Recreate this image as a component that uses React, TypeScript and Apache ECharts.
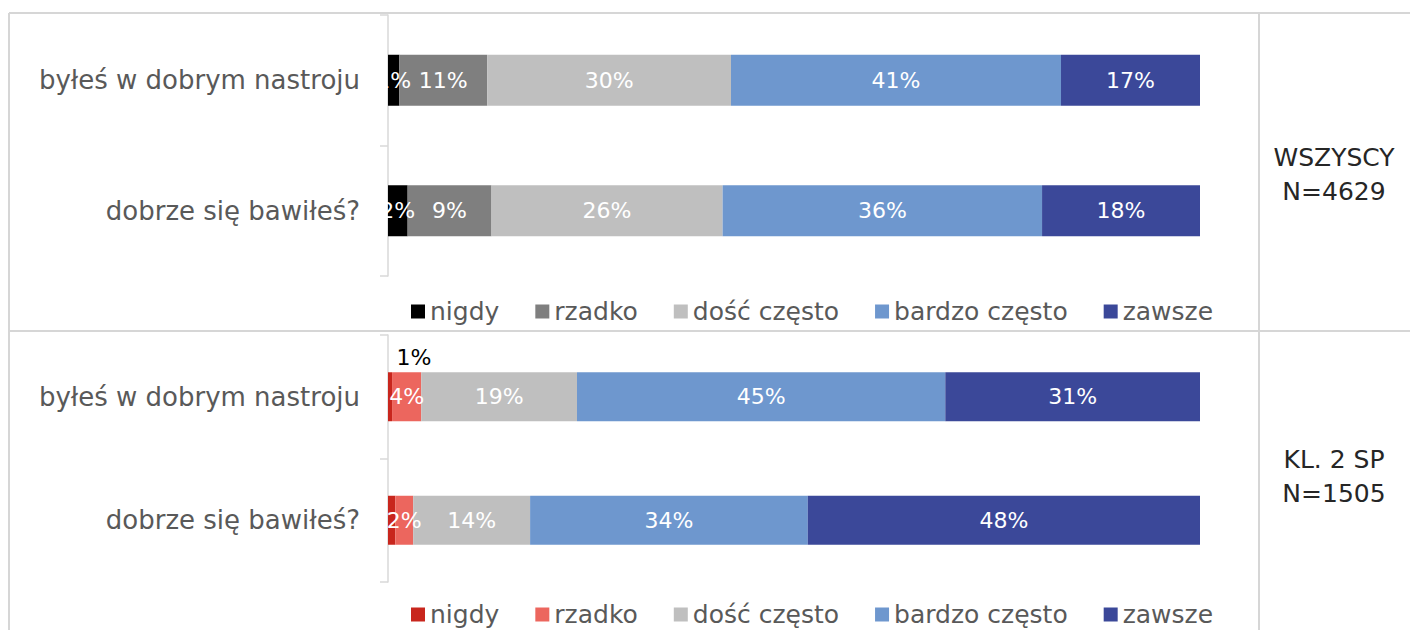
import React, { useEffect, useRef } from "react";
import * as echarts from "echarts";

const categories = ["byłeś w dobrym nastroju", "dobrze się bawiłeś?"];
const responses = ["nigdy", "rzadko", "dość często", "bardzo często", "zawsze"];

// WSZYSCY N=4629 (percent, per category)
const allNigdy = [1.4, 2.2];
const allRzadko = [10.8, 9.4];
const allDosc = [30.0, 25.9];
const allBardzo = [40.6, 35.8];
const allZawsze = [17.1, 17.7];

// KL. 2 SP N=1505
const kl2Nigdy = [0.5, 0.9];
const kl2Rzadko = [3.6, 2.2];
const kl2Dosc = [19.2, 14.4];
const kl2Bardzo = [45.4, 34.2];
const kl2Zawsze = [31.4, 48.3];

const panelTitles = [
  ["WSZYSCY", "N=4629"],
  ["KL. 2 SP", "N=1505"],
];

const colorsAll = ["#000000", "#7F7F7F", "#BFBFBF", "#6E97CE", "#3B4899"];
const colorsKl2 = ["#C8261D", "#EC665E", "#BFBFBF", "#6E97CE", "#3B4899"];

const FONT = "'DejaVu Sans', sans-serif";
const TEXT = "#595959";
const LINE = "#D9D9D9";

function buildSeries(rows: number[][], colors: string[], axisIdx: number, stack: string) {
  const totals = categories.map((_, ci) => rows.reduce((s, r) => s + r[ci], 0));
  return rows.map((r, ri) => ({
    type: "bar",
    name: responses[ri],
    stack,
    xAxisIndex: axisIdx,
    yAxisIndex: axisIdx,
    barWidth: axisIdx === 0 ? 51 : 49,
    itemStyle: { color: colors[ri] },
    label: {
      show: true,
      position: "inside",
      color: "#FFFFFF",
      fontSize: 22,
      fontFamily: FONT,
      formatter: (p: any) => Math.round(p.data.raw) + "%",
    },
    data: r.map((v, ci) => {
      const item: any = { value: (v / totals[ci]) * 100, raw: v };
      if (axisIdx === 1 && ri === 0) {
        if (ci === 0) {
          item.label = { show: true, position: "top", color: "#000000", offset: [24, 0], distance: 4 };
        } else {
          item.label = { show: false };
        }
      }
      return item;
    }),
  }));
}

export default function App() {
  const ref = useRef<HTMLDivElement>(null);
  useEffect(() => {
    document.body.style.margin = "0";
    const chart = echarts.init(ref.current!, null, { renderer: "svg" });
    const yAxisBase = {
      type: "category",
      data: categories,
      inverse: true,
      axisLine: { show: true, lineStyle: { color: LINE, width: 1.5 } },
      axisTick: { show: true, length: 8, lineStyle: { color: LINE, width: 1.5 } },
      axisLabel: { color: TEXT, fontSize: 26, fontFamily: FONT, margin: 28 },
    };
    const xAxisBase = { type: "value", min: 0, max: 100, show: false };
    const legendBase = {
      left: 406,
      orient: "horizontal",
      icon: "rect",
      itemWidth: 14,
      itemHeight: 14,
      itemGap: 36,
      selectedMode: false,
      textStyle: { color: TEXT, fontSize: 25, fontFamily: FONT },
    };
    const lineStyle = { stroke: "#D6D6D6", lineWidth: 2 };
    chart.setOption({
      animation: false,
      textStyle: { fontFamily: FONT },
      grid: [
        { left: 388, right: 210, top: 15, height: 261 },
        { left: 388, right: 210, top: 335, height: 247 },
      ],
      xAxis: [
        { ...xAxisBase, gridIndex: 0 },
        { ...xAxisBase, gridIndex: 1 },
      ],
      yAxis: [
        { ...yAxisBase, gridIndex: 0 },
        { ...yAxisBase, gridIndex: 1 },
      ],
      legend: [
        {
          ...legendBase,
          top: 294,
          data: responses.map((n, i) => ({ name: n, itemStyle: { color: colorsAll[i] } })),
        },
        {
          ...legendBase,
          top: 597,
          data: responses.map((n, i) => ({ name: n, itemStyle: { color: colorsKl2[i] } })),
        },
      ],
      series: [
        ...buildSeries([allNigdy, allRzadko, allDosc, allBardzo, allZawsze], colorsAll, 0, "all"),
        ...buildSeries([kl2Nigdy, kl2Rzadko, kl2Dosc, kl2Bardzo, kl2Zawsze], colorsKl2, 1, "kl2"),
      ],
      graphic: [
        { type: "line", shape: { x1: 9, y1: 13, x2: 1410, y2: 13 }, style: lineStyle, silent: true },
        { type: "line", shape: { x1: 9, y1: 13, x2: 9, y2: 630 }, style: lineStyle, silent: true },
        { type: "line", shape: { x1: 9, y1: 331, x2: 1410, y2: 331 }, style: lineStyle, silent: true },
        { type: "line", shape: { x1: 1259, y1: 13, x2: 1259, y2: 630 }, style: lineStyle, silent: true },
        ...panelTitles.flatMap((t, pi) =>
          t.map((s, li) => ({
            type: "text",
            x: 1334,
            y: (pi === 0 ? 157 : 459) + li * 34,
            style: {
              text: s,
              fill: "#262626",
              fontSize: 25,
              fontFamily: FONT,
              textAlign: "center",
              textVerticalAlign: "middle",
            },
            silent: true,
          }))
        ),
      ],
    });
    return () => chart.dispose();
  }, []);
  return (
    <div
      ref={ref}
      style={{ position: "fixed", left: 0, top: 0, width: 1410, height: 630, background: "#fff" }}
    />
  );
}
